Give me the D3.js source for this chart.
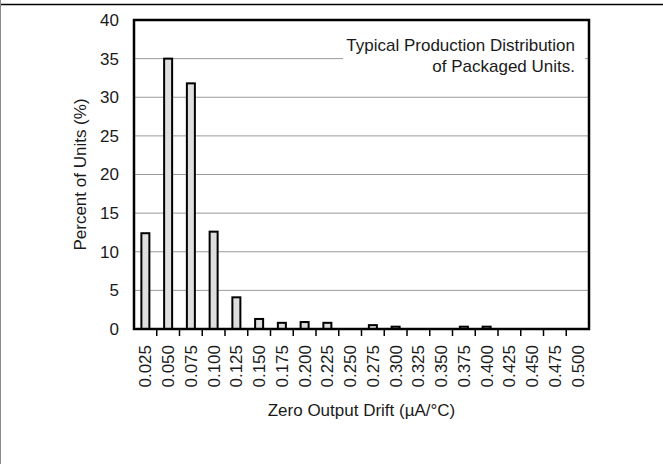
<!DOCTYPE html>
<html>
<head>
<meta charset="utf-8">
<script src="https://cdn.jsdelivr.net/npm/d3@7"></script>
<style>
  html, body { margin: 0; padding: 0; background: #fff; }
  svg { display: block; }
  text { font-family: "Liberation Sans", Arial, Helvetica, sans-serif; fill: #1a1a1a; }
</style>
</head>
<body>
<svg id="chart" width="663" height="464"></svg>
<script>
// Zero output drift bins (µA/°C) and percent of units in each bin
const driftBins = ["0.025","0.050","0.075","0.100","0.125","0.150","0.175","0.200","0.225","0.250",
                   "0.275","0.300","0.325","0.350","0.375","0.400","0.425","0.450","0.475","0.500"];
const percentUnits = [12.4, 35.0, 31.8, 12.6, 4.1, 1.3, 0.8, 0.9, 0.8, 0,
                      0.5, 0.3, 0, 0, 0.3, 0.3, 0, 0, 0, 0];
const yTicks = [0, 5, 10, 15, 20, 25, 30, 35, 40];
const noteLines = ["Typical Production Distribution", "of Packaged Units."];

const W = 663, H = 464;
const plot = { left: 134, right: 589, top: 20, bottom: 329 };
const svg = d3.select("#chart");

// page frame: rule across the top, thin grey edge on the left
svg.append("line").attr("x1", 0).attr("x2", W).attr("y1", 4.5).attr("y2", 4.5)
  .attr("stroke", "#000").attr("stroke-width", 1.5);
svg.append("line").attr("x1", 0.5).attr("x2", 0.5).attr("y1", 0).attr("y2", H)
  .attr("stroke", "#8a8a8a").attr("stroke-width", 1);

const x = d3.scaleBand().domain(driftBins).range([plot.left, plot.right]).padding(0);
const y = d3.scaleLinear().domain([0, 40]).range([plot.bottom, plot.top]);

// horizontal gridlines
svg.append("g").selectAll("line")
  .data(yTicks.filter(t => t > 0 && t < 40))
  .join("line")
  .attr("x1", plot.left).attr("x2", plot.right)
  .attr("y1", d => y(d)).attr("y2", d => y(d))
  .attr("stroke", "#9a9a9a").attr("stroke-width", 1);

// annotation with a white backing that masks the gridline
const note = svg.append("g");
note.append("rect")
  .attr("x", 343).attr("y", 33).attr("width", 242).attr("height", 44)
  .attr("fill", "#fff");
note.selectAll("text").data(noteLines).join("text")
  .attr("x", 575).attr("y", (d, i) => 51 + i * 20.5)
  .attr("text-anchor", "end").attr("font-size", 17)
  .text(d => d);

// bars
const barW = 9;
svg.append("g").selectAll("rect")
  .data(driftBins.map((b, i) => ({ bin: b, v: percentUnits[i] })).filter(d => d.v > 0))
  .join("rect")
  .attr("x", d => x(d.bin) + x.bandwidth() / 2 - barW / 2 + 0.5)
  .attr("y", d => y(d.v))
  .attr("width", barW - 1)
  .attr("height", d => y(0) - y(d.v))
  .attr("fill", "#dedede").attr("stroke", "#000").attr("stroke-width", 2);

// x tick marks at bin boundaries
svg.append("g").selectAll("line")
  .data(driftBins.slice(1))
  .join("line")
  .attr("x1", d => x(d)).attr("x2", d => x(d))
  .attr("y1", plot.bottom).attr("y2", plot.bottom + 7)
  .attr("stroke", "#000").attr("stroke-width", 1.5);

// plot frame
svg.append("rect")
  .attr("x", plot.left).attr("y", plot.top)
  .attr("width", plot.right - plot.left).attr("height", plot.bottom - plot.top)
  .attr("fill", "none").attr("stroke", "#000").attr("stroke-width", 2.5);

// y tick labels
svg.append("g").selectAll("text")
  .data(yTicks).join("text")
  .attr("x", 119).attr("y", d => y(d))
  .attr("dy", "0.35em").attr("text-anchor", "end").attr("font-size", 17)
  .text(d => d);

// x tick labels, rotated
svg.append("g").selectAll("text")
  .data(driftBins).join("text")
  .attr("transform", d => `translate(${x(d) + x.bandwidth() / 2},${plot.bottom + 16}) rotate(-90)`)
  .attr("dy", "0.35em").attr("text-anchor", "end").attr("font-size", 17)
  .text(d => d);

// axis titles
svg.append("text")
  .attr("x", (plot.left + plot.right) / 2).attr("y", 416)
  .attr("text-anchor", "middle").attr("font-size", 17)
  .text("Zero Output Drift (\u00B5A/\u00B0C)");
svg.append("text")
  .attr("transform", `translate(86,${(plot.top + plot.bottom) / 2}) rotate(-90)`)
  .attr("text-anchor", "middle").attr("font-size", 17)
  .text("Percent of Units (%)");
</script>
</body>
</html>
